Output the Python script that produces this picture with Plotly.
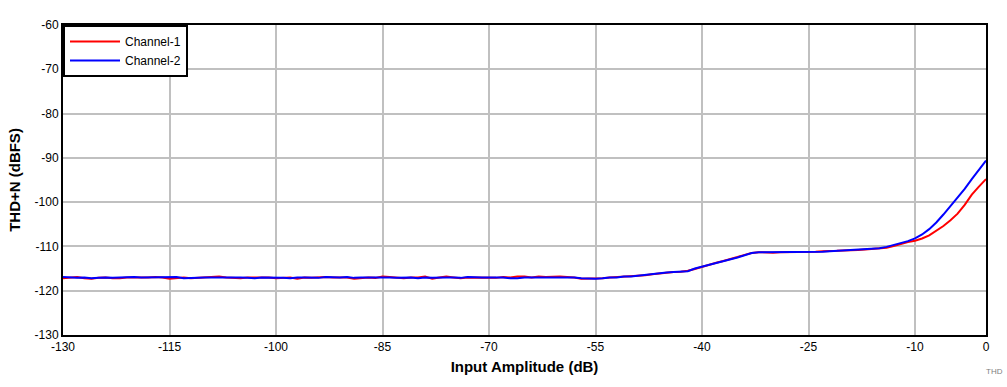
import plotly.graph_objects as go

# Input amplitude sweep (dB)
input_db = [
    -130, -129, -128, -127, -126, -125, -124, -123, -122, -121,
    -120, -119, -118, -117, -116, -115, -114, -113, -112, -111,
    -110, -109, -108, -107, -106, -105, -104, -103, -102, -101,
    -100, -99, -98, -97, -96, -95, -94, -93, -92, -91,
    -90, -89, -88, -87, -86, -85, -84, -83, -82, -81,
    -80, -79, -78, -77, -76, -75, -74, -73, -72, -71,
    -70, -69, -68, -67, -66, -65, -64, -63, -62, -61,
    -60, -59, -58, -57, -56, -55, -54, -53, -52, -51,
    -50, -49, -48, -47, -46, -45, -44, -43, -42, -41,
    -40, -39, -38, -37, -36, -35, -34, -33, -32, -31,
    -30, -29, -28, -27, -26, -25, -24, -23, -22, -21,
    -20, -19, -18, -17, -16, -15, -14, -13, -12, -11,
    -10, -9, -8, -7, -6, -5, -4, -3, -2, -1, 0,
]

# THD+N (dBFS), Channel-1
channel_1 = [
    -117.2, -117.1, -116.9, -117.2, -117.3, -117.1, -117.0, -117.2, -117.2, -117.0,
    -117.0, -117.1, -117.0, -116.9, -117.0, -117.3, -117.2, -117.0, -117.2, -117.1,
    -117.0, -117.0, -116.8, -117.0, -117.1, -117.2, -117.0, -117.0, -117.1, -117.0,
    -117.2, -117.1, -117.0, -117.3, -117.0, -117.1, -117.0, -116.9, -117.0, -117.0,
    -117.0, -117.3, -117.1, -117.0, -117.1, -116.8, -116.9, -117.0, -117.2, -117.0,
    -117.0, -116.8, -117.3, -117.0, -116.8, -117.0, -117.2, -117.0, -117.0, -117.0,
    -117.0, -117.1, -116.9, -117.0, -116.8, -116.8, -117.0, -116.8, -116.9, -116.8,
    -116.8, -116.9, -117.0, -117.3, -117.3, -117.2, -117.2, -117.0, -116.9, -116.8,
    -116.8, -116.6, -116.5, -116.3, -116.1, -115.9, -115.8, -115.7, -115.5, -115.1,
    -114.6, -114.2, -113.7, -113.3, -112.9, -112.4, -111.9, -111.5, -111.3, -111.4,
    -111.4, -111.3, -111.3, -111.3, -111.2, -111.3, -111.2, -111.1, -111.1, -111.0,
    -110.9, -110.9, -110.8, -110.7, -110.6, -110.5, -110.3, -109.9, -109.4, -109.0,
    -108.7, -108.2, -107.5, -106.5, -105.4, -104.1, -102.6, -100.6, -98.3, -96.5, -94.8,
]

# THD+N (dBFS), Channel-2
channel_2 = [
    -116.9, -117.0, -117.1, -117.0, -117.2, -117.1, -117.0, -117.1, -117.0, -117.0,
    -116.9, -117.0, -117.0, -117.0, -117.0, -116.9, -116.9, -117.2, -117.1, -117.0,
    -117.0, -117.0, -117.0, -116.9, -117.0, -117.0, -117.1, -117.2, -117.0, -117.0,
    -117.0, -117.1, -117.2, -117.0, -117.0, -117.0, -117.1, -116.9, -117.0, -117.0,
    -116.9, -117.1, -117.0, -117.0, -116.9, -117.0, -117.0, -117.1, -117.0, -117.0,
    -117.2, -117.0, -117.1, -117.0, -117.0, -117.0, -117.1, -116.9, -117.0, -117.0,
    -117.0, -117.0, -117.0, -117.2, -117.2, -117.0, -117.0, -117.0, -117.0, -117.0,
    -117.0, -117.0, -117.0, -117.2, -117.3, -117.3, -117.2, -117.0, -117.0, -116.8,
    -116.8, -116.6, -116.5, -116.3, -116.1, -115.9, -115.8, -115.7, -115.6, -115.0,
    -114.6, -114.2, -113.8, -113.4, -113.0, -112.5, -112.0, -111.5, -111.3, -111.3,
    -111.3, -111.2, -111.3, -111.3, -111.3, -111.3, -111.2, -111.2, -111.1, -111.0,
    -110.9, -110.8, -110.8, -110.7, -110.6, -110.4, -110.1, -109.7, -109.3, -108.8,
    -108.2, -107.3, -106.1, -104.6, -102.8, -100.9, -98.9, -97.0, -94.8, -92.6, -90.6,
]

x_ticks = [-130, -115, -100, -85, -70, -55, -40, -25, -10, 0]
y_ticks = [-130, -120, -110, -100, -90, -80, -70, -60]

FONT = "Liberation Sans, Arial, sans-serif"

fig = go.Figure()
fig.add_trace(go.Scatter(x=input_db, y=channel_1, mode="lines", name="Channel-1",
                         line=dict(color="#ff0000", width=2)))
fig.add_trace(go.Scatter(x=input_db, y=channel_2, mode="lines", name="Channel-2",
                         line=dict(color="#0000ff", width=2)))

axis_common = dict(
    showline=True, mirror=True, linecolor="black", linewidth=2,
    showgrid=True, gridcolor="#c0c0c0", gridwidth=2,
    zeroline=False, ticks="", tickfont=dict(family=FONT, size=12, color="black"),
)

fig.update_layout(
    width=1007, height=387,
    margin=dict(l=63, r=21, t=25, b=52),
    paper_bgcolor="white", plot_bgcolor="white",
    font=dict(family=FONT, size=12, color="black"),
    xaxis=dict(range=[-130, 0], tickvals=x_ticks, ticktext=[str(v) for v in x_ticks],
               title=dict(text="<b>Input Amplitude (dB)</b>", font=dict(size=15), standoff=8),
               **axis_common),
    yaxis=dict(range=[-130, -60], tickvals=y_ticks, ticktext=[str(v) for v in y_ticks],
               title=dict(text="<b>THD+N (dBFS)</b>", font=dict(size=15), standoff=10),
               **axis_common),
    legend=dict(x=0, y=1, xanchor="left", yanchor="top", bgcolor="white",
                bordercolor="black", borderwidth=2, font=dict(size=12),
                tracegroupgap=0, itemwidth=50),
    showlegend=True,
    annotations=[dict(text="THD", xref="paper", yref="paper", x=1.021, y=-0.119,
                      xanchor="right", yanchor="middle", showarrow=False,
                      font=dict(size=8, color="#808080"))],
)

fig.write_html("out.html")
